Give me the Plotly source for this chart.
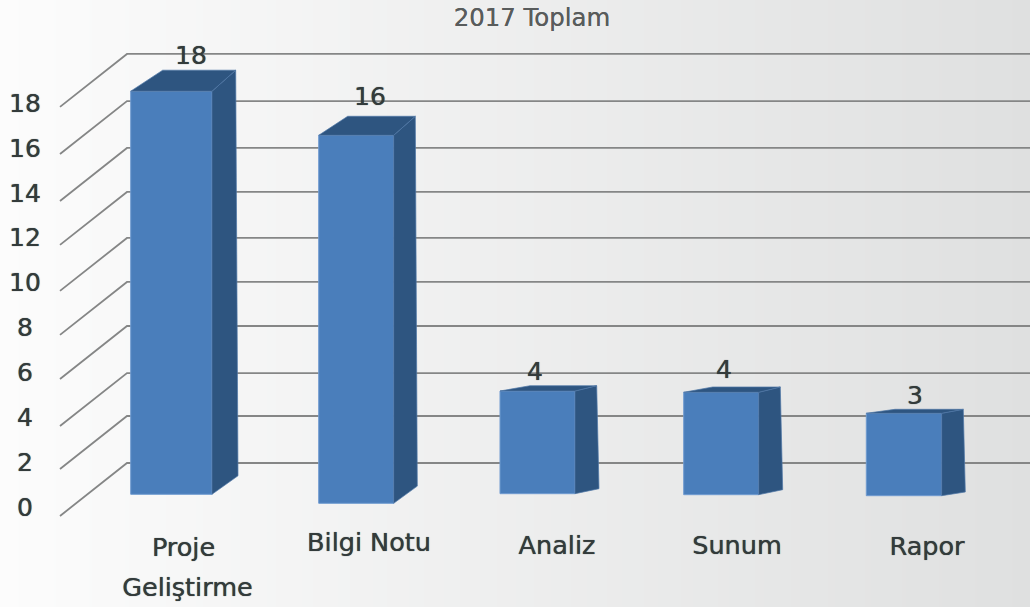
import plotly.graph_objects as go

# --- data ---
title_text = "2017 Toplam"
categories = ["Proje Geliştirme", "Bilgi Notu", "Analiz", "Sunum", "Rapor"]
values = [18, 16, 4, 4, 3]
y_ticks = [0, 2, 4, 6, 8, 10, 12, 14, 16, 18]

# --- 3D look of the original (per bar, axis units for y, page units for x) ---
bar_left = [130.7, 318.7, 500.0, 683.7, 866.3]
bar_width = [81.3, 75.0, 75.0, 75.0, 75.4]
bar_base = [0.566, 0.165, 0.593, 0.548, 0.504]
height_scale = [0.998, 1.025, 1.144, 1.141, 1.224]
top_dx_left = [32.0, 29.0, 30.0, 29.0, 28.7]
top_dx_right = [23.7, 21.6, 21.7, 21.6, 21.6]
top_dy = [0.936, 0.847, 0.236, 0.236, 0.178]
bot_dx = [26.0, 23.6, 24.0, 24.0, 23.6]
bot_dy = [0.825, 0.766, 0.223, 0.223, 0.165]

grid_back = [1.96, 4.055, 5.97, 8.066, 10.03, 11.99, 14.04, 16.0, 18.09, 20.19]
grid_depth = 2.36
grid_x = [60, 127, 1030]

label_x = [183.5, 369, 557, 737, 927]
label_y = [-1.9, -1.68, -1.81, -1.81, -1.86]
second_line_x = 187.5
second_line_y = -3.685
value_x = [191, 370, 535, 724, 915]
value_y = [20.01, 18.19, 5.93, 6.02, 4.86]

FONT = "DejaVu Sans"
TEXT = "#333b3b"
FRONT = "#4a7ebb"
DARK = "#2e5580"
GRID = "#858686"
THICKEN = "0 0 0.8px #333b3b"

fig = go.Figure()

# background gradient
fig.add_trace(go.Heatmap(
    x=[0, 1030], y=[-10, 30], z=[[0, 1], [0, 1]], zsmooth="best",
    colorscale=[[0, "#fcfcfc"], [1, "#dfe0e0"]], showscale=False, hoverinfo="skip",
))

# floor-to-wall gridlines
gx, gy = [], []
for lvl in grid_back:
    gx += grid_x + [None]
    gy += [lvl - grid_depth, lvl, lvl, None]
fig.add_trace(go.Scatter(x=gx, y=gy, mode="lines", line=dict(color=GRID, width=1.8),
                         hoverinfo="skip", zorder=0))

# front faces
heights = [v * k for v, k in zip(values, height_scale)]
fig.add_trace(go.Bar(
    x=[l + w / 2 for l, w in zip(bar_left, bar_width)], y=heights, base=bar_base, width=bar_width,
    marker=dict(color=FRONT, line=dict(color="#6f9bd0", width=1)), hoverinfo="skip", zorder=1,
))

# side and top faces
sx, sy, tx, ty = [], [], [], []
for i in range(len(values)):
    l, r = bar_left[i], bar_left[i] + bar_width[i]
    b, t = bar_base[i], bar_base[i] + heights[i]
    sx += [r, r + top_dx_right[i], r + bot_dx[i], r, r, None]
    sy += [t, t + top_dy[i], b + bot_dy[i], b, t, None]
    tx += [l, l + top_dx_left[i], r + top_dx_right[i], r, l, None]
    ty += [t, t + top_dy[i], t + top_dy[i], t, t, None]
for xs, ys in ((sx, sy), (tx, ty)):
    fig.add_trace(go.Scatter(x=xs, y=ys, mode="lines", fill="toself", fillcolor=DARK,
                             line=dict(color="#4f77a6", width=0.7), hoverinfo="skip", zorder=1))

# category labels (the first wraps over two lines)
cat_text, cat_x, cat_y = [], [], []
for name, x, y in zip(categories, label_x, label_y):
    parts = name.split(" ") if name == categories[0] else [name]
    for j, p in enumerate(parts):
        cat_text.append(p)
        cat_x.append(x if j == 0 else second_line_x)
        cat_y.append(y if j == 0 else second_line_y)
fig.add_trace(go.Scatter(x=cat_x, y=cat_y, text=cat_text, mode="text", textposition="middle center",
                         textfont=dict(family=FONT, size=25.5, color=TEXT, shadow=THICKEN),
                         hoverinfo="skip", zorder=2))

# value labels
fig.add_trace(go.Scatter(x=value_x, y=value_y, text=[str(v) for v in values], mode="text",
                         textposition="middle center",
                         textfont=dict(family=FONT, size=25, color=TEXT, shadow=THICKEN),
                         hoverinfo="skip", zorder=2))

fig.update_layout(
    width=1030, height=607, autosize=False, showlegend=False,
    margin=dict(l=0, r=0, t=0, b=0),
    paper_bgcolor="#f0f0f0", plot_bgcolor="rgba(0,0,0,0)", hovermode=False,
    title=dict(text=title_text, x=532 / 1030, y=1 - 17 / 607, xanchor="center", yanchor="middle",
               font=dict(family=FONT, size=24.4, color="#595c5c", shadow="0 0 0.6px #595c5c")),
    xaxis=dict(range=[0, 1030], visible=False, fixedrange=True),
    yaxis=dict(range=[-100 / 22.44, 507 / 22.44], fixedrange=True, showgrid=False, zeroline=False,
               showline=False, ticks="", tickvals=y_ticks,
               ticktext=[("\u00a0" + str(t)) if t < 10 else str(t) for t in y_ticks],
               ticklabelposition="inside", ticklabelstandoff=6,
               tickfont=dict(family=FONT, size=25, color=TEXT, shadow=THICKEN)),
)

fig.write_html(
    "out.html",
    config={"displayModeBar": False},
    post_script="document.documentElement.style.overflow='hidden';document.body.style.margin='0';",
)
